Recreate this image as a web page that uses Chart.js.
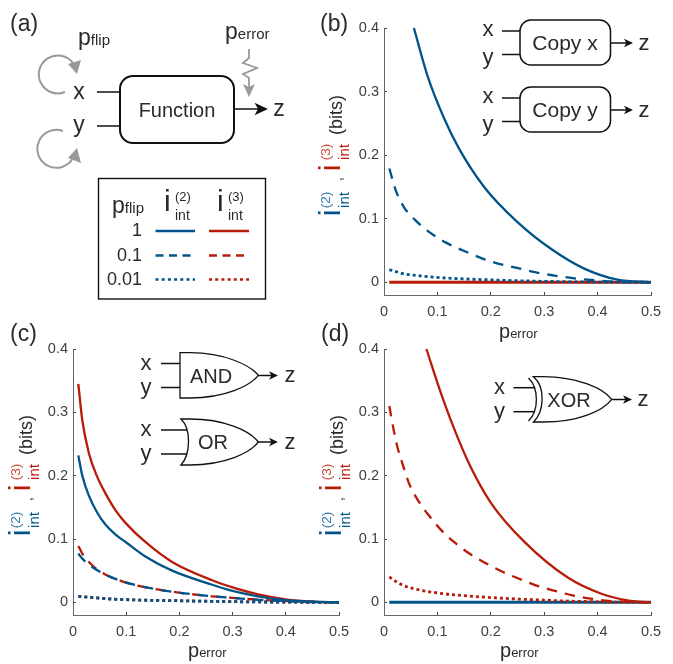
<!DOCTYPE html>
<html>
<head>
<meta charset="utf-8">
<title>Interaction information</title>
<script src="https://cdn.jsdelivr.net/npm/chart.js@4"></script>
<style>
    html, body { margin: 0; padding: 0; background: #fff; }
    #page { position: relative; width: 673px; height: 664px; overflow: hidden; }
    canvas { position: absolute; }
    svg { position: absolute; left: 0; top: 0; pointer-events: none; }
    svg text { font-family: "Liberation Sans", sans-serif; fill: #2a2a2a; }
</style>
</head>
<body>
<div id="page">
    <div style="position:absolute;left:344px;top:10px;width:329px;height:310px"><canvas id="chartB"></canvas></div>
    <div style="position:absolute;left:34px;top:330px;width:329px;height:334px"><canvas id="chartC"></canvas></div>
    <div style="position:absolute;left:344px;top:330px;width:329px;height:334px"><canvas id="chartD"></canvas></div>
    <svg id="overlay" width="673" height="664" viewBox="0 0 673 664"></svg>
</div>

<script>
// ============== DATA ==============

const xTicks = [0, 0.1, 0.2, 0.3, 0.4, 0.5];
const yTicks = [0, 0.1, 0.2, 0.3, 0.4];

// panel b: copy
const copySolidX = [0.056, 0.081, 0.1125, 0.14, 0.1875, 0.25, 0.3125, 0.375, 0.4375, 0.5];
const copyPair1 = [0.4, 0.326, 0.258, 0.211, 0.15, 0.0947, 0.0527, 0.0215, 0.004, 0];
const copyDashX = [0.01, 0.022, 0.0375, 0.059, 0.0875, 0.117, 0.148, 0.181, 0.2156, 0.249, 0.2825, 0.319, 0.356, 0.3875, 0.4375, 0.5];
const copyPair01 = [0.179, 0.1447, 0.118, 0.0974, 0.0774, 0.062, 0.05, 0.0385, 0.029, 0.0227, 0.0158, 0.0106, 0.0063, 0.0037, 0.0006, 0];
const copyDotX = [0.01, 0.0375, 0.0625, 0.094, 0.15, 0.2, 0.2625, 0.325, 0.3875, 0.5];
const copyPair001 = [0.02, 0.0133, 0.0106, 0.0079, 0.0053, 0.0038, 0.0022, 0.0011, 0.0004, 0];
const flatX = [0.01, 0.5];
const copyTriple = [0, 0];

// panel c: AND / OR
const andSolidX = [0.01, 0.0175, 0.03, 0.0456, 0.0613, 0.08, 0.1, 0.136, 0.1864, 0.2615, 0.3, 0.35, 0.4, 0.45, 0.5];
const andPair1 = [0.232, 0.2, 0.168, 0.1415, 0.1225, 0.107, 0.0945, 0.0725, 0.05, 0.0278, 0.018, 0.009, 0.0035, 0.001, 0];
const andTriple1 = [0.345, 0.2875, 0.235, 0.198, 0.1717, 0.1453, 0.1243, 0.0953, 0.0637, 0.0348, 0.0235, 0.012, 0.0045, 0.001, 0];
const andDashX = [0.01, 0.0175, 0.0362, 0.0613, 0.0925, 0.124, 0.1614, 0.205, 0.2615, 0.3, 0.35, 0.4, 0.45, 0.5];
const andPair01 = [0.077, 0.069, 0.0558, 0.0437, 0.0332, 0.026, 0.02, 0.0147, 0.0095, 0.007, 0.004, 0.002, 0.0005, 0];
const andTriple01 = [0.089, 0.077, 0.0585, 0.0437, 0.0332, 0.026, 0.02, 0.0147, 0.0095, 0.007, 0.004, 0.002, 0.0005, 0];
const andDotX = [0.01, 0.061, 0.124, 0.186, 0.26, 0.35, 0.45, 0.5];
const andPair001 = [0.0095, 0.0058, 0.0036, 0.0027, 0.0016, 0.0006, 0.0001, 0];
const andTriple001 = [0.0095, 0.0058, 0.0036, 0.0027, 0.0016, 0.0006, 0.0001, 0];

// panel d: XOR
const xorSolidX = [0.0794, 0.1043, 0.1324, 0.1637, 0.2011, 0.2635, 0.3434, 0.4058, 0.4558, 0.5];
const xorTriple1 = [0.4, 0.336, 0.272, 0.2112, 0.156, 0.095, 0.0395, 0.014, 0.0032, 0];
const xorDashX = [0.01, 0.0182, 0.0251, 0.0356, 0.0463, 0.0625, 0.0837, 0.1062, 0.1311, 0.1592, 0.1899, 0.2199, 0.2541, 0.2841, 0.3184, 0.3528, 0.3871, 0.4214, 0.5];
const xorTriple01 = [0.31, 0.2717, 0.2454, 0.2164, 0.189, 0.1627, 0.1374, 0.1148, 0.0953, 0.0774, 0.0621, 0.049, 0.0368, 0.0269, 0.0184, 0.0111, 0.0058, 0.0021, 0];
const xorDotX = [0.01, 0.0326, 0.0637, 0.1011, 0.1573, 0.251, 0.287, 0.3434, 0.393, 0.45, 0.5];
const xorTriple001 = [0.04, 0.028, 0.02, 0.0147, 0.01, 0.0052, 0.004, 0.002, 0.001, 0.0002, 0];
const xorPair = [0, 0];

const BLUE = '#00548a';
const RED = '#b81c08';
const FONT = '"Liberation Sans", sans-serif';

// ============== CHARTS ==============

function points(xs, ys) {
    return xs.map((x, i) => ({ x: x, y: ys[i] }));
}

function curve(xs, ys, color, kind) {
    const widths = { solid: 2.3, flat: 3, dashed: 2.3, dotted: 2.8 };
    const dash = kind === 'dashed' ? [10.5, 8] : kind === 'dotted' ? [3, 3] : [];
    return {
        data: points(xs, ys),
        borderColor: color,
        borderWidth: widths[kind],
        borderDash: dash,
        pointRadius: 0,
        cubicInterpolationMode: 'monotone',
        clip: false
    };
}

// Plot area is pinned through afterFit so the axes land where the reference has them
function drawPanel(id, datasets, leftGutter, rightGutter, topGutter, bottomGutter) {
    new Chart(document.getElementById(id), {
        type: 'line',
        data: { datasets: datasets },
        options: {
            responsive: true,
            maintainAspectRatio: false,
            animation: false,
            layout: { padding: { left: 0, right: rightGutter, top: topGutter, bottom: 0 } },
            plugins: { legend: { display: false }, tooltip: { enabled: false } },
            scales: {
                x: {
                    type: 'linear',
                    min: 0,
                    max: 0.5,
                    afterBuildTicks: scale => { scale.ticks = xTicks.map(v => ({ value: v })); },
                    afterFit: scale => { scale.height = bottomGutter; },
                    grid: { drawOnChartArea: false, tickLength: -3, tickColor: '#444' },
                    border: { color: '#666', width: 1 },
                    ticks: {
                        color: '#404040',
                        padding: 11,
                        maxRotation: 0,
                        font: { family: FONT, size: 14.5 },
                        callback: value => String(value)
                    }
                },
                y: {
                    type: 'linear',
                    min: -0.02,
                    max: 0.4,
                    afterBuildTicks: scale => { scale.ticks = yTicks.map(v => ({ value: v })); },
                    afterFit: scale => { scale.width = leftGutter; },
                    grid: { drawOnChartArea: false, tickLength: -3, tickColor: '#444' },
                    border: { color: '#666', width: 1 },
                    ticks: {
                        color: '#404040',
                        padding: 8,
                        font: { family: FONT, size: 14.5 },
                        callback: value => String(value)
                    }
                }
            }
        }
    });
}

// Chart.js paints the first dataset last, so the top-most curve goes first
drawPanel('chartB', [
    curve(copySolidX, copyPair1, BLUE, 'solid'),
    curve(copyDashX, copyPair01, BLUE, 'dashed'),
    curve(copyDotX, copyPair001, BLUE, 'dotted'),
    curve(flatX, copyTriple, RED, 'flat')
], 40, 22, 18, 25);

drawPanel('chartC', [
    curve(andDotX, andPair001, BLUE, 'dotted'),
    curve(andDashX, andPair01, BLUE, 'dashed'),
    curve(andSolidX, andPair1, BLUE, 'solid'),
    curve(andDotX, andTriple001, RED, 'dotted'),
    curve(andDashX, andTriple01, RED, 'dashed'),
    curve(andSolidX, andTriple1, RED, 'solid')
], 39, 24, 19, 49);

drawPanel('chartD', [
    curve(xorSolidX, xorTriple1, RED, 'solid'),
    curve(xorDashX, xorTriple01, RED, 'dashed'),
    curve(xorDotX, xorTriple001, RED, 'dotted'),
    curve(flatX, xorPair, BLUE, 'flat')
], 40, 22, 19, 49);

// ============== LABELS AND SCHEMATICS ==============

function label(x, y, text, size, anchor) {
    return `<text x="${x}" y="${y}" font-size="${size}" text-anchor="${anchor || 'middle'}">${text}</text>`;
}

function pSub(x, y, sub, big, small) {
    return `<text x="${x}" y="${y}" font-size="${big}">p<tspan font-size="${small}">${sub}</tspan></text>`;
}

function wire(x1, y1, x2, y2, width) {
    return `<line x1="${x1}" y1="${y1}" x2="${x2}" y2="${y2}" stroke="#111" stroke-width="${width || 1.5}"/>`;
}

function arrow(x1, x2, y, size) {
    const s = size || 6;
    return wire(x1, y, x2 - 3, y) +
        `<path d="M${x2} ${y} L${x2 - s * 1.5} ${y - s * 0.7} L${x2 - s * 1.1} ${y} L${x2 - s * 1.5} ${y + s * 0.7} Z" fill="#111"/>`;
}

function yLabel(dx, dy) {
    const rot = (x, y, text, size, color) =>
        `<text transform="translate(${x},${y}) rotate(-90)" font-size="${size}" text-anchor="middle" style="fill:${color}">${text}</text>`;
    return `<g transform="translate(${dx},${dy})">` +
        rot(30, 533, 'i', 30, BLUE) +
        rot(20, 520, '(2)', 13.5, '#2f78a8') + rot(39, 520, 'int', 15, BLUE) +
        rot(32, 499, ',', 14, '#222') +
        rot(30, 488, 'i', 30, RED) +
        rot(20, 472, '(3)', 13.5, '#cf4a36') + rot(39, 472, 'int', 15, RED) +
        rot(32, 435, '(bits)', 18, '#2a2a2a') +
        `</g>`;
}

function legendRow(y, value, dash, width) {
    return label(142, y + 5, value, 18, 'end') +
        `<line x1="155.5" y1="${y}" x2="195" y2="${y}" stroke="${BLUE}" stroke-width="${width}" stroke-dasharray="${dash}"/>` +
        `<line x1="209" y1="${y}" x2="249" y2="${y}" stroke="${RED}" stroke-width="${width}" stroke-dasharray="${dash}"/>`;
}

function legendHead(x, sup) {
    return `<text x="${x}" y="211" font-size="30">i</text>` +
        `<text x="${x + 11}" y="201" font-size="13">${sup}</text>` +
        `<text x="${x + 11}" y="220" font-size="14">int</text>`;
}

function copyBox(top, name) {
    return `<rect x="520" y="${top}" width="90.5" height="45" rx="11" fill="#fff" stroke="#111" stroke-width="1.5"/>` +
        wire(502, top + 11, 520, top + 11) + wire(502, top + 34.5, 520, top + 34.5) +
        arrow(611, 633, top + 23) +
        label(565, top + 30, name, 21) +
        label(488, top + 16, 'x', 22) + label(488, top + 43.5, 'y', 22) + label(644, top + 30, 'z', 22);
}

const overlay = [
    // panel letters
    label(10, 31, '(a)', 23, 'start'), label(320, 31, '(b)', 23, 'start'),
    label(10, 341, '(c)', 23, 'start'), label(321, 341, '(d)', 23, 'start'),

    // panel a diagram
    pSub(78, 45, 'flip', 23, 15),
    pSub(225, 39, 'error', 23, 15),
    `<path d="M65 92 A19 19 0 1 1 73 63" fill="none" stroke="#999" stroke-width="2"/>`,
    `<path d="M77 74 L68 64 L81 60 Z" fill="#999"/>`,
    `<path d="M63 131 A19 19 0 1 0 73 158" fill="none" stroke="#999" stroke-width="2"/>`,
    `<path d="M77 148 L68 158 L81 163 Z" fill="#999"/>`,
    `<path d="M249 49 V58 L243 63 L257 68 L243 74 L249 78 V90" fill="none" stroke="#999" stroke-width="1.8"/>`,
    `<path d="M249 97 L243 84 L249 87 L255 84 Z" fill="#999"/>`,
    `<rect x="120" y="76" width="114" height="67" rx="13" fill="#fff" stroke="#111" stroke-width="2"/>`,
    wire(97, 92, 120, 92), wire(97, 126, 120, 126),
    arrow(234, 268, 109, 9),
    label(177, 117, 'Function', 20),
    label(79, 99, 'x', 23), label(79, 132, 'y', 23), label(279, 116, 'z', 23),

    // panel a legend
    `<rect x="98.5" y="178.5" width="167" height="120.5" fill="#fff" stroke="#111" stroke-width="1.4"/>`,
    pSub(112, 213, 'flip', 23, 15),
    legendHead(164, '(2)'), legendHead(217, '(3)'),
    legendRow(231, '1', 'none', 2.5),
    legendRow(255.5, '0.1', '8 5.5', 2.5),
    legendRow(279.5, '0.01', '3 3.2', 2.5),

    // axis labels
    yLabel(310, -320), yLabel(0, 0), yLabel(311, 0),
    pSub(499, 338, 'error', 20, 13), pSub(188, 657, 'error', 20, 13), pSub(500, 657, 'error', 20, 13),

    // panel b schematics
    copyBox(20, 'Copy x'), copyBox(87, 'Copy y'),

    // panel c gates
    `<path d="M180 352.7 H190 C225 353 250 365 258.3 375.3 C250 386 225 398 190 398 H180 Z" fill="#fff" stroke="#111" stroke-width="1.3"/>`,
    wire(161, 363.5, 180, 363.5), wire(161, 387.5, 180, 387.5),
    arrow(258, 278, 375.5),
    label(211, 383, 'AND', 20),
    label(146, 370, 'x', 22), label(146, 394, 'y', 22), label(290, 382, 'z', 22),
    `<path d="M181 419 H190 C225 419 250 431 258.3 442 C250 453 225 465 190 465 H181 C190 455 192 430 181 419 Z" fill="#fff" stroke="#111" stroke-width="1.3"/>`,
    wire(161, 430, 187, 430), wire(161, 454, 187, 454),
    arrow(258, 278, 442),
    label(213, 449, 'OR', 20),
    label(146, 436, 'x', 22), label(146, 460, 'y', 22), label(290, 449, 'z', 22),

    // panel d gate
    `<path d="M533.5 376.7 H543 C578 377 603 388 611.7 399.3 C603 411 578 422 543 422 H533.5 C544 412 546 387 533.5 376.7 Z" fill="#fff" stroke="#111" stroke-width="1.3"/>`,
    `<path d="M528.5 378 C539 388 539 411 528.5 421" fill="none" stroke="#111" stroke-width="1.3"/>`,
    wire(513.5, 387.7, 535, 387.7), wire(513.5, 411.7, 535, 411.7),
    arrow(612, 632, 399.5),
    label(569, 407, 'XOR', 20),
    label(499.5, 394, 'x', 22), label(499.5, 418, 'y', 22), label(643, 406, 'z', 22)
];

document.getElementById('overlay').innerHTML = overlay.join('');
</script>
</body>
</html>
